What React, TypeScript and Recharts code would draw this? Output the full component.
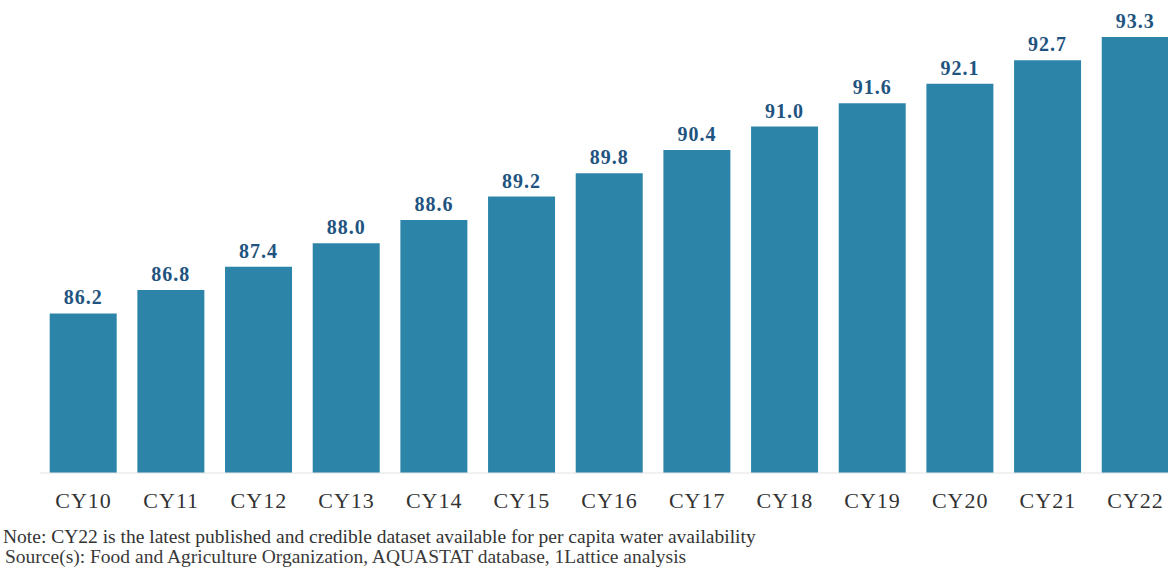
import React from 'react';
import { BarChart, Bar, XAxis, YAxis, LabelList } from 'recharts';

const years = ['CY10', 'CY11', 'CY12', 'CY13', 'CY14', 'CY15', 'CY16', 'CY17', 'CY18', 'CY19', 'CY20', 'CY21', 'CY22'];
const values = [86.2, 86.8, 87.4, 88.0, 88.6, 89.2, 89.8, 90.4, 91.0, 91.6, 92.1, 92.7, 93.3];

const noteText = 'Note: CY22 is the latest published and credible dataset available for per capita water availability';
const sourceText = 'Source(s): Food and Agriculture Organization, AQUASTAT database, 1Lattice analysis';

const data = years.map((name, i) => ({ name, value: values[i] }));

const FONT = '"Liberation Serif", serif';

const App: React.FC = () => {
  return (
    <div style={{ position: 'absolute', left: 0, top: 0, width: 1168, height: 568, overflow: 'hidden', background: '#fff', fontFamily: FONT }}>
      <BarChart
        width={1190}
        height={568}
        data={data}
        margin={{ top: 37, right: 10.6, left: 39.7, bottom: 55 }}
      >
        <YAxis hide domain={[82.1, 93.3]} allowDataOverflow />
        <XAxis
          dataKey="name"
          height={40}
          axisLine={{ stroke: '#e3e3e3', strokeWidth: 1 }}
          tickLine={false}
          tickSize={0}
          tickMargin={19}
          interval={0}
          tick={{ fontSize: 22, fill: '#333', fontFamily: FONT, letterSpacing: 1 }}
        />
        <Bar dataKey="value" fill="#2C85A9" barSize={67} isAnimationActive={false}>
          <LabelList
            dataKey="value"
            position="top"
            offset={9}
            formatter={(v: number) => v.toFixed(1)}
            style={{ fontSize: 20, fontWeight: 'bold', fill: '#1F5480', fontFamily: FONT, letterSpacing: 1 }}
          />
        </Bar>
      </BarChart>
      <div style={{ position: 'absolute', left: 3, top: 527, fontSize: 19.5, lineHeight: '19px', color: '#333', whiteSpace: 'nowrap' }}>
        {noteText}
      </div>
      <div style={{ position: 'absolute', left: 5, top: 547, fontSize: 19.5, lineHeight: '19px', color: '#3a3a3a', whiteSpace: 'nowrap' }}>
        {sourceText}
      </div>
    </div>
  );
};

export default App;
